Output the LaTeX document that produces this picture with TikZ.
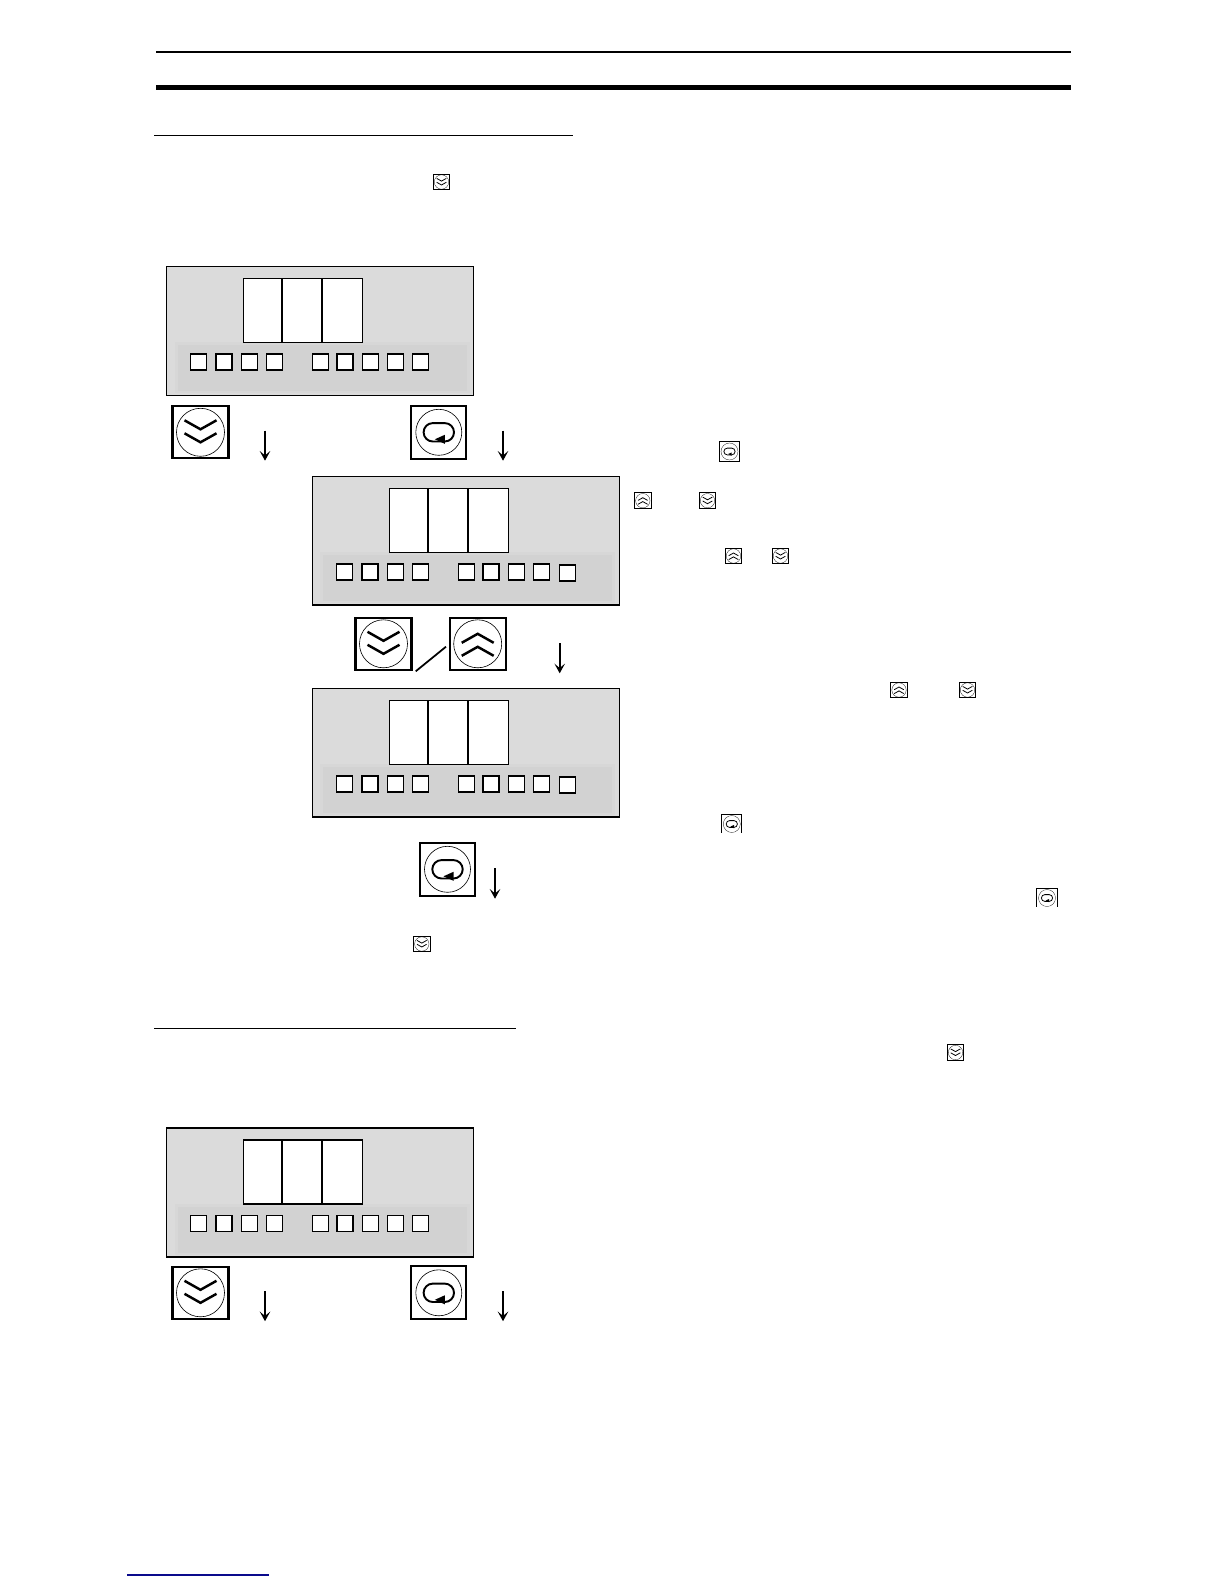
\documentclass[tikz,border=0pt]{standalone}
\usetikzlibrary{arrows.meta}
\definecolor{panelgray}{HTML}{DBDBDB}
\definecolor{bandedge}{HTML}{D7D7D7}
\definecolor{bandgray}{HTML}{D2D2D2}
\definecolor{linkblue}{HTML}{0A0A8C}
\begin{document}
\begin{tikzpicture}[
  x=0.02cm, y=-0.02cm,
  keyframe/.style={line width=1.3pt},
  keyring/.style={line width=0.35pt},
  chev/.style={line width=1.4pt},
  loopline/.style={line width=1.1pt},
  small/.style={scale=0.3, keyframe/.style={line width=0.6pt},
    keyring/.style={line width=0.15pt}, chev/.style={line width=0.45pt},
    loopline/.style={line width=0.45pt}},
  smallenter/.style={small, scale=1.23},
  flow/.style={line width=1pt, -{Stealth[length=5.5pt,width=6pt,inset=2.5pt]}},
  seg/.style={draw=black, fill=white, line width=0.7pt},
  lamp/.style={draw=black, fill=white, line width=0.85pt},
  pics/panel/.style={code={
    \fill[panelgray] (0,0) rectangle (307,128.8);
    \fill[bandedge] (8,76) rectangle (303,127);
    \fill[bandgray] (11,79) rectangle (300,125);
    \draw[line width=0.8pt] (0,0) rectangle (307,128.8);
    \draw[seg] (77,12) rectangle (196,76);
    \draw[line width=1pt] (115.5,12) -- (115.5,76) (155.5,12) -- (155.5,76);
    \foreach \dx in {32,57.5,83,108,154,178.6,204,229}
      \draw[lamp] (\dx-8,87.5) rectangle (\dx+8,103.5);
    \draw[lamp] (254+#1-8,87.5+#1) rectangle (254+#1+8,103.5+#1);
  }},
  pics/downkey/.style={code={
    \draw[keyframe] (-28,-26) rectangle (28,26);
    \draw[keyring] (0,0) circle (24);
    \draw[chev] (-16,-12) -- (0,-3) -- (16,-12) (-16,1) -- (0,10) -- (16,1);
  }},
  pics/upkey/.style={code={
    \draw[keyframe] (-28,-26) rectangle (28,26);
    \draw[keyring] (0,0) circle (24);
    \draw[chev] (-16,12) -- (0,3) -- (16,12) (-16,-1) -- (0,-10) -- (16,-1);
  }},
  pics/enterkey/.style={code={
    \draw[keyframe] (-27.5,-26.5) rectangle (27.5,26.5);
    \draw[keyring] (0,0) circle (23);
    \draw[loopline] (-6,-9.2) -- (6,-9.2) arc (-90:90:9.2) -- (-6,9.2) arc (90:270:9.2) -- cycle;
    \fill (-4,7) -- (6,2.5) -- (6,11.5) -- cycle;
  }}
]
\useasboundingbox (0,0) rectangle (1224,1584);

% rules
\draw[line width=1.15pt] (156,52) -- (1071,52);
\draw[line width=2.8pt] (156,87.3) -- (1071,87.3);
\draw[line width=0.7pt] (154,135.3) -- (572.7,135.3);
\draw[line width=0.7pt] (154,1028.5) -- (516,1028.5);
\draw[linkblue, line width=0.7pt] (127,1575) -- (269,1575);

% panels
\pic (p1) at (166.5,266.5) {panel=0};
\pic (p2) at (312.3,476.3) {panel=1};
\pic (p3) at (312.3,688.3) {panel=1};
\pic (p4) at (166.5,1128) {panel=0};

% big keys
\pic (kd1) at (200.5,432.3) {downkey};
\pic (ke1) at (438.8,432.3) {enterkey};
\pic (kd2) at (383.5,643.8) {downkey};
\pic (ku2) at (477.7,643.8) {upkey};
\pic (ke3) at (447.5,869.3) {enterkey};
\pic (kd4) at (200.5,1292.8) {downkey};
\pic (ke4) at (438.8,1292.8) {enterkey};

% arrows
\coordinate (a1s) at (265,430.7);
\coordinate (a1e) at (265,460.7);
\coordinate (a2s) at (503,430.7);
\coordinate (a2e) at (503,460.7);
\coordinate (a3s) at (559.7,643.3);
\coordinate (a3e) at (559.7,673.3);
\coordinate (a4s) at (495,868.3);
\coordinate (a4e) at (495,898.7);
\coordinate (a5s) at (265,1291.2);
\coordinate (a5e) at (265,1321.2);
\coordinate (a6s) at (503,1291.2);
\coordinate (a6e) at (503,1321.2);
\foreach \a in {a1,a2,a3,a4,a5,a6}
  \draw[flow] (\a s) -- (\a e);

% slash between the keys
\coordinate (sl1) at (415.7,671.3);
\coordinate (sl2) at (446,646.7);
\draw[line width=1pt] (sl1) -- (sl2);

% small keys in the text
\pic[small] (s1) at (441.5,182) {downkey};
\pic[smallenter] (s2) at (729.5,451.5) {enterkey};
\pic[small] (s3) at (642.8,500.7) {upkey};
\pic[small] (s4) at (707.5,500.7) {downkey};
\pic[small] (s5) at (733.5,556) {upkey};
\pic[small] (s6) at (780.5,556) {downkey};
\pic[small] (s7) at (899,690) {upkey};
\pic[small] (s8) at (967.5,690) {downkey};
\pic[small] (s9) at (421.8,944) {downkey};
\pic[small] (s10) at (955.5,1052.5) {downkey};
\begin{scope}
  \clip (715,810) rectangle (750,832.7);
  \pic[smallenter] (s11) at (731.8,824) {enterkey};
\end{scope}
\begin{scope}
  \clip (1030,885) rectangle (1065,906);
  \pic[smallenter] (s12) at (1047,898) {enterkey};
\end{scope}
\end{tikzpicture}
\end{document}
